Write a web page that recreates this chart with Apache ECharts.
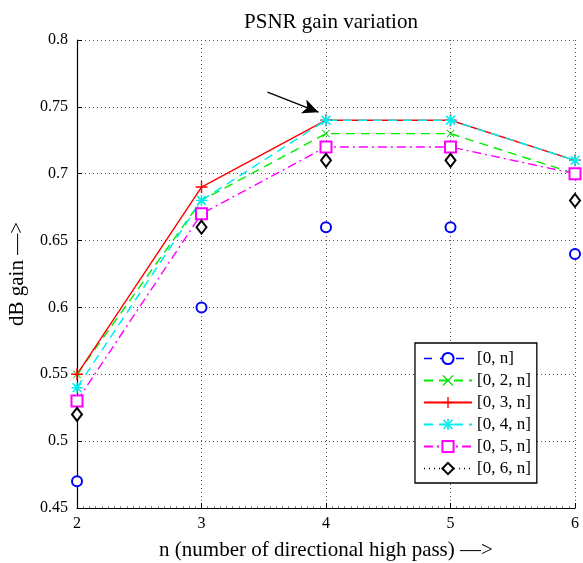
<!DOCTYPE html>
<html>
<head>
<meta charset="utf-8">
<script src="https://cdn.jsdelivr.net/npm/echarts@6/dist/echarts.min.js"></script>
<style>
html,body{margin:0;padding:0;background:#fff;}
#chart{width:583px;height:563px;}
</style>
</head>
<body>
<div id="chart"></div>
<script>
var nValues = [2, 3, 4, 5, 6];
var s0n  = [0.47, 0.60, 0.66, 0.66, 0.64];
var s02n = [0.55, 0.68, 0.73, 0.73, 0.70];
var s03n = [0.55, 0.69, 0.74, 0.74, 0.71];
var s04n = [0.54, 0.68, 0.74, 0.74, 0.71];
var s05n = [0.53, 0.67, 0.72, 0.72, 0.70];
var s06n = [0.52, 0.66, 0.71, 0.71, 0.68];
var seriesNames = ['[0, n]', '[0, 2, n]', '[0, 3, n]', '[0, 4, n]', '[0, 5, n]', '[0, 6, n]'];
var arrowFrom = [3.53, 0.761];
var arrowTo = [3.94, 0.746];

function pairs(vals){ return nValues.map(function(x,i){ return [x, vals[i]]; }); }

var FONT = '"Liberation Serif", "DejaVu Serif", serif';
var plusPath = 'path://M4.4,0H5.6V4.4H10V5.6H5.6V10H4.4V5.6H0V4.4H4.4Z';
var xPath = 'path://M0.8,0L5,4.2L9.2,0L10,0.8L5.8,5L10,9.2L9.2,10L5,5.8L0.8,10L0,9.2L4.2,5L0,0.8Z';
var starPath = 'path://M4.3,0H5.7V4.3H10V5.7H5.7V10H4.3V5.7H0V4.3H4.3Z M1.5,0.5L5,4L8.5,0.5L9.5,1.5L6,5L9.5,8.5L8.5,9.5L5,6L1.5,9.5L0.5,8.5L4,5L0.5,1.5Z';

var chart = echarts.init(document.getElementById('chart'), null, {renderer:'canvas'});

var option = {
  animation: false,
  backgroundColor: '#fff',
  title: {
    text: 'PSNR gain variation',
    left: 326, top: 7, textAlign: 'center',
    textStyle: {fontFamily: FONT, fontSize: 21, fontWeight: 'normal', color: '#000'}
  },
  grid: {left: 77, right: 8, top: 40, bottom: 55, containLabel: false, outerBoundsMode: 'none'},
  xAxis: {
    type: 'value', min: 2, max: 6, interval: 1,
    name: 'n (number of directional high pass) —>',
    nameLocation: 'middle', nameGap: 32,
    nameTextStyle: {fontFamily: FONT, fontSize: 21, color: '#000'},
    axisLine: {show: true, onZero: false, lineStyle: {color: '#000', width: 1.2}},
    axisTick: {show: true, inside: true, length: 5, lineStyle: {color: '#000'}},
    minorTick: {show: true, splitNumber: 20, length: 2, lineStyle: {color: '#888'}},
    axisLabel: {fontFamily: FONT, fontSize: 16, color: '#000', margin: 8},
    splitLine: {show: true, lineStyle: {color: '#555', type: [1, 3], width: 1}}
  },
  yAxis: {
    type: 'value', min: 0.45, max: 0.8, interval: 0.05,
    name: 'dB gain —>',
    nameLocation: 'middle', nameGap: 49, nameRotate: 90,
    nameTextStyle: {fontFamily: FONT, fontSize: 21, color: '#000'},
    axisLine: {show: true, onZero: false, lineStyle: {color: '#000', width: 1.2}},
    axisTick: {show: true, inside: true, length: 5, lineStyle: {color: '#000'}},
    axisLabel: {fontFamily: FONT, fontSize: 16, color: '#000', margin: 9},
    splitLine: {show: true, lineStyle: {color: '#555', type: [1, 3], width: 1}}
  },
  legend: {
    orient: 'vertical',
    left: 415, top: 343,
    padding: [7, 6, 6, 8],
    itemGap: 5,
    itemWidth: 48, itemHeight: 14,
    backgroundColor: '#fff',
    borderColor: '#000', borderWidth: 1.3, borderRadius: 0,
    textStyle: {fontFamily: FONT, fontSize: 17, color: '#000'},
    data: [
      {name: seriesNames[0], lineStyle: {opacity: 1, type: [8, 8], width: 1.3, color: '#0000ff'}},
      {name: seriesNames[1]},
      {name: seriesNames[2]},
      {name: seriesNames[3]},
      {name: seriesNames[4]},
      {name: seriesNames[5], lineStyle: {opacity: 1, type: [1, 4], width: 1.3, color: '#000'}}
    ]
  },
  series: [
    {
      name: seriesNames[0], type: 'line', data: pairs(s0n),
      symbol: 'emptyCircle', symbolSize: 10, color: '#0000ff',
      itemStyle: {color: '#0000ff', borderWidth: 1.4},
      lineStyle: {opacity: 0, width: 0}
    },
    {
      name: seriesNames[1], type: 'line', data: pairs(s02n),
      symbol: xPath, symbolSize: 8, color: '#00ee00',
      itemStyle: {color: '#00dd00'},
      lineStyle: {color: '#00ee00', width: 1.4, type: [9, 6]}
    },
    {
      name: seriesNames[2], type: 'line', data: pairs(s03n),
      symbol: plusPath, symbolSize: 12, color: '#ff0000',
      itemStyle: {color: '#ff0000'},
      lineStyle: {color: '#ff0000', width: 1.4, type: 'solid'}
    },
    {
      name: seriesNames[3], type: 'line', data: pairs(s04n),
      symbol: starPath, symbolSize: 11, color: '#00ffff',
      itemStyle: {color: '#00eeee'},
      lineStyle: {color: '#00eeee', width: 1.5, type: [9, 6]}
    },
    {
      name: seriesNames[4], type: 'line', data: pairs(s05n),
      symbol: 'emptyRect', symbolSize: 11, color: '#ff00ff',
      itemStyle: {color: '#ff00ff', borderWidth: 1.4},
      lineStyle: {color: '#ff00ff', width: 1.4, type: [9, 4, 2, 4]}
    },
    {
      name: seriesNames[5], type: 'line', data: pairs(s06n),
      symbol: 'emptyDiamond', symbolSize: [10, 13], color: '#000',
      itemStyle: {color: '#000', borderWidth: 1.5},
      lineStyle: {opacity: 0, width: 0},
      markLine: {
        silent: true, animation: false,
        symbol: ['none', 'arrow'], symbolSize: [11, 16],
        label: {show: false},
        lineStyle: {color: '#000', type: 'solid', width: 1.3},
        data: [[{coord: arrowFrom}, {coord: arrowTo}]]
      }
    }
  ]
};
chart.setOption(option);
</script>
</body>
</html>
